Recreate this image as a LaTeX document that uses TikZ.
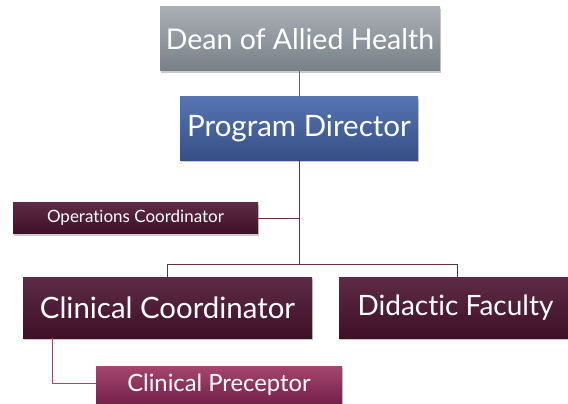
\documentclass[tikz,border=0pt]{standalone}
\usepackage{fontspec}
\setmainfont{Lato}[Ligatures={NoCommon}]
\usetikzlibrary{shadows}
\definecolor{graytop}{HTML}{A9AFB5}
\definecolor{graybot}{HTML}{788088}
\definecolor{bluetop}{HTML}{5675B2}
\definecolor{bluebot}{HTML}{364F87}
\definecolor{martop}{HTML}{5E2B47}
\definecolor{marbot}{HTML}{3E1027}
\definecolor{pinktop}{HTML}{A4466F}
\definecolor{pinkbot}{HTML}{76214B}
\definecolor{blueline}{HTML}{4A66A0}
\definecolor{marline}{HTML}{6A2C4C}
\definecolor{pinkline}{HTML}{A14A74}
\tikzset{
  orgbox/.style={rectangle, inner sep=0pt, text=white, align=center,
    drop shadow={shadow xshift=1pt, shadow yshift=-2pt, opacity=0.35, fill=black!60}},
  graybox/.style={orgbox, top color=graytop, bottom color=graybot},
  bluebox/.style={orgbox, top color=bluetop, bottom color=bluebot},
  marbox/.style={orgbox, top color=martop, bottom color=marbot},
  pinkbox/.style={orgbox, top color=pinktop, bottom color=pinkbot},
  conn/.style={line width=1pt}
}
\begin{document}
\begin{tikzpicture}[x=1pt,y=-1pt]
% connector junctions
\coordinate (j1) at (299,218);
\coordinate (j2) at (299,264);
\coordinate (lb) at (167,264);
\coordinate (rb) at (457,264);
\node[graybox, minimum width=280pt, minimum height=64pt, font=\fontsize{28.5}{30}\selectfont] (dean) at (300,39) {Dean of Allied Health};
\node[bluebox, minimum width=238pt, minimum height=63pt, font=\fontsize{29.5}{31}\selectfont] (pd) at (299,128.5) {Program Director};
\node[marbox, minimum width=245pt, minimum height=31pt, font=\fontsize{17}{19}\selectfont] (ops) at (135.5,218) {Operations Coordinator};
\node[marbox, minimum width=289pt, minimum height=61pt, font=\fontsize{29.4}{31}\selectfont] (cc) at (167.5,307.5) {Clinical Coordinator};
\node[marbox, minimum width=233pt, minimum height=61pt, font=\fontsize{28}{30}\selectfont] (df) at (455.5,307.5) {Didactic Faculty};
\node[pinkbox, minimum width=246pt, minimum height=37pt, font=\fontsize{23.8}{25}\selectfont] (cp) at (219,384.5) {Clinical Preceptor};
\coordinate (cpk) at (52,383);
\draw[conn, blueline] (dean.south -| j1) -- (pd.north -| j1);
\draw[conn, marline] (pd.south -| j1) -- (j2);
\draw[conn, marline] (ops.east) -- (j1);
\draw[conn, marline] (lb) -- (rb);
\draw[conn, marline] (lb) -- (cc.north -| lb);
\draw[conn, marline] (rb) -- (df.north -| rb);
\draw[conn, pinkline] (cc.south -| cpk) -- (cpk) -- (cp.west |- cpk);
\pgfresetboundingbox
\useasboundingbox (0,0) rectangle (568,404);
\end{tikzpicture}
\end{document}
